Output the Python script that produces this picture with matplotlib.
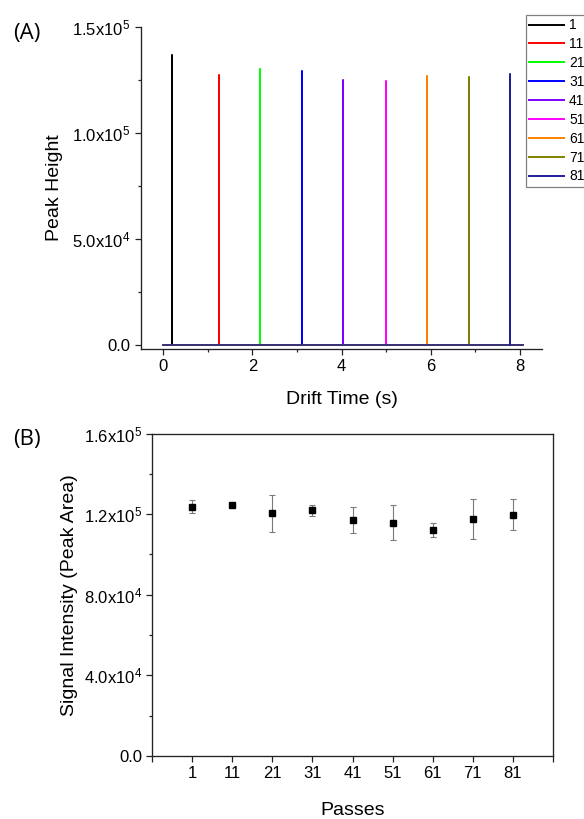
import matplotlib
matplotlib.use("Agg")
import matplotlib.pyplot as plt
from matplotlib.ticker import MultipleLocator

plt.rcParams["font.family"] = ["Liberation Sans", "DejaVu Sans"]
plt.rcParams["mathtext.default"] = "regular"

# ---------------- data: panel A (drift spectra, one peak per pass) ----------------
pass_labels = ["1", "11", "21", "31", "41", "51", "61", "71", "81"]
peak_times = [0.20, 1.25, 2.17, 3.11, 4.04, 4.99, 5.92, 6.85, 7.78]          # s
peak_heights = [136.5e3, 127.4e3, 130.2e3, 129.2e3, 124.8e3,
                124.5e3, 126.7e3, 126.1e3, 127.8e3]
drift_start, drift_end = 0.0, 8.08
trace_colors = ["#000000", "#ff0000", "#00ff00", "#0000ff", "#8000ff",
                "#ff00ff", "#ff8000", "#808000", "#1f1f99"]

a_yticks = [0, 5e4, 1e5, 1.5e5]
a_yticklabels = ["0.0", "5.0x10$^4$", "1.0x10$^5$", "1.5x10$^5$"]

# ---------------- data: panel B (peak area vs passes) ----------------
passes = [1, 11, 21, 31, 41, 51, 61, 71, 81]
area_mean = [123.8e3, 124.8e3, 120.5e3, 121.9e3, 117.2e3,
             115.8e3, 112.0e3, 117.7e3, 119.7e3]
area_err = [3.0e3, 1.0e3, 9.2e3, 2.9e3, 6.6e3, 8.8e3, 3.5e3, 10.0e3, 7.8e3]

b_xticks = [-9, 1, 11, 21, 31, 41, 51, 61, 71, 81, 91]
b_xticklabels = [""] + [str(p) for p in passes] + [""]
b_yticks = [0, 4e4, 8e4, 1.2e5, 1.6e5]
b_yticklabels = ["0.0", "4.0x10$^4$", "8.0x10$^4$", "1.2x10$^5$", "1.6x10$^5$"]

TICK_FS = 12
LABEL_FS = 14

fig = plt.figure(figsize=(5.84, 8.19), dpi=100)


def style_ticks(ax):
    ax.tick_params(which="both", direction="out", width=0.9, colors="#222222",
                   labelcolor="black", labelsize=TICK_FS, pad=3)
    ax.tick_params(which="major", length=4.5)
    ax.tick_params(which="minor", length=2.5)
    for sp in ax.spines.values():
        sp.set_linewidth(0.95)
        sp.set_color("#222222")


# ---------------- Panel A ----------------
axA = fig.add_axes([0.2414, 0.5739, 0.687, 0.3935])
for lbl, t, h, c in zip(pass_labels, peak_times, peak_heights, trace_colors):
    xs = [drift_start, t, t, t, drift_end]
    ys = [0, 0, h, 0, 0]
    axA.plot(xs, ys, color=c, linewidth=1.1, label=lbl)

axA.set_xlim(-0.5, 8.5)
axA.set_ylim(-1900, 1.5e5)
axA.xaxis.set_major_locator(MultipleLocator(2))
axA.xaxis.set_minor_locator(MultipleLocator(1))
axA.set_yticks(a_yticks)
axA.set_yticklabels(a_yticklabels)
axA.yaxis.set_minor_locator(MultipleLocator(2.5e4))
axA.spines["top"].set_visible(False)
axA.spines["right"].set_visible(False)
style_ticks(axA)
axA.set_xlabel("Drift Time (s)", fontsize=LABEL_FS)
axA.set_ylabel("Peak Height", fontsize=LABEL_FS)
axA.xaxis.set_label_coords(0.5, -0.130)
axA.yaxis.set_label_coords(-0.195, 0.5)

leg = axA.legend(loc="upper left", bbox_to_anchor=(526 / 584, 1 - 15 / 819),
                 bbox_transform=fig.transFigure, fontsize=10, frameon=True,
                 fancybox=False, framealpha=1, edgecolor="#808080",
                 borderpad=0.25, handlelength=2.5, handletextpad=0.35,
                 labelspacing=0.35, borderaxespad=0)
leg.get_frame().set_linewidth(0.9)
for line in leg.get_lines():
    line.set_linewidth(1.4)

fig.text(13 / 584, 1 - 33.5 / 819, "(A)", fontsize=16, family=["Open Sans", "DejaVu Sans"],
         ha="left", va="center")

# ---------------- Panel B ----------------
axB = fig.add_axes([0.2608, 0.0772, 0.6856, 0.3933])
axB.errorbar(passes, area_mean, yerr=area_err, fmt="s", color="black",
             markersize=5, ecolor="#7a7a7a", elinewidth=0.8, capsize=2.5,
             capthick=0.8, zorder=3)
axB.set_xlim(-9, 91)
axB.set_ylim(0, 1.6e5)
axB.set_xticks(b_xticks)
axB.set_xticklabels(b_xticklabels)
axB.set_yticks(b_yticks)
axB.set_yticklabels(b_yticklabels)
axB.yaxis.set_minor_locator(MultipleLocator(2e4))
style_ticks(axB)
axB.set_xlabel("Passes", fontsize=LABEL_FS)
axB.set_ylabel("Signal Intensity (Peak Area)", fontsize=LABEL_FS)
axB.xaxis.set_label_coords(0.5, -0.1425)
axB.yaxis.set_label_coords(-0.1856, 0.5)

fig.text(13 / 584, 1 - 439 / 819, "(B)", fontsize=16, family=["Open Sans", "DejaVu Sans"],
         ha="left", va="center")

fig.savefig("out.png", dpi=100, facecolor="white")
